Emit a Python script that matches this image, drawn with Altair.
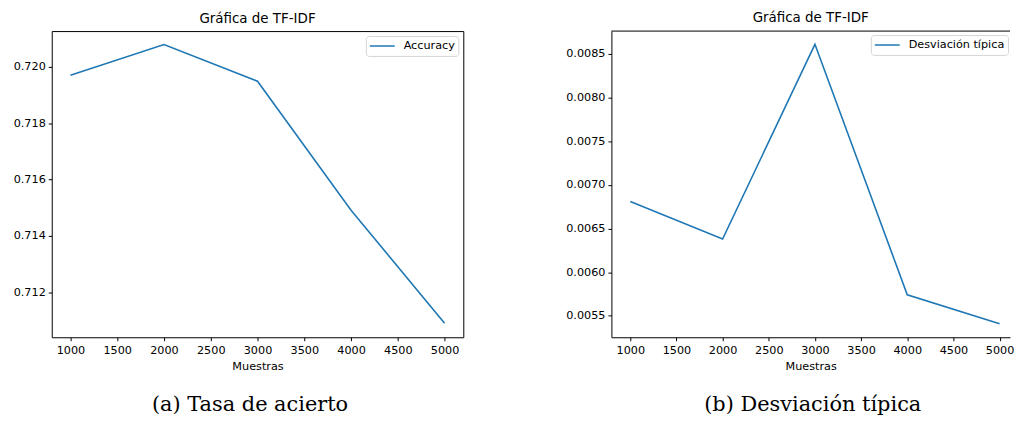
import altair as alt
import pandas as pd

# ---- data ----
muestras = [1000, 2000, 3000, 4000, 5000]
accuracy = [0.7197, 0.72079, 0.71949, 0.71491, 0.7109]
desviacion = [0.00681, 0.00638, 0.00861, 0.00574, 0.00541]
titulo = "Gráfica de TF-IDF"
eje_x = "Muestras"
serie_a = "Accuracy"
serie_b = "Desviación típica"
caption_a = "(a) Tasa de acierto"
caption_b = "(b) Desviación típica"
x_ticks = [1000, 1500, 2000, 2500, 3000, 3500, 4000, 4500, 5000]
y_ticks_a = [0.712, 0.714, 0.716, 0.718, 0.720]
y_ticks_b = [0.0055, 0.0060, 0.0065, 0.0070, 0.0075, 0.0080, 0.0085]

BLUE = "#1f77b4"
SANS = "DejaVu Sans"
H = 308
CAP_Y = 382


def legend_for(pos):
    common = dict(title=None, symbolType="stroke", symbolSize=625,
                  symbolStrokeWidth=1.6, clipHeight=14,
                  labelFont=SANS, labelFontSize=11.3, labelColor="black",
                  labelOffset=8, strokeColor="#d5d5d5", fillColor="white",
                  cornerRadius=3, padding=3)
    if pos is None:
        return alt.Legend(orient="top-right", offset=5, **common)
    return alt.Legend(orient="none", legendX=pos[0], legendY=pos[1], **common)


def panel(values, serie, yticks, ydomain, xdomain, width, yfmt, caption,
          cap_x, ext, framed, legend_pos):
    df = pd.DataFrame({"Muestras": muestras, "valor": values,
                       "serie": [serie] * len(muestras)})
    line = alt.Chart(df).mark_line(strokeWidth=1.6, clip=True).encode(
        x=alt.X("Muestras:Q",
                scale=alt.Scale(domain=xdomain, nice=False, zero=False),
                axis=alt.Axis(values=x_ticks, format="d", title=eje_x,
                              domain=not framed, titlePadding=5,
                              labelPadding=3.5)),
        y=alt.Y("valor:Q",
                scale=alt.Scale(domain=ydomain, nice=False, zero=False),
                axis=alt.Axis(values=yticks, format=yfmt, title=None,
                              domain=not framed, minExtent=ext, maxExtent=ext)),
        color=alt.Color("serie:N",
                        scale=alt.Scale(domain=[serie], range=[BLUE]),
                        legend=legend_for(legend_pos)),
    )
    cap = alt.Chart(pd.DataFrame({"t": [caption]})).mark_text(
        font="DejaVu Serif", fontSize=21, baseline="alphabetic", align="center",
        color="black").encode(x=alt.value(cap_x), y=alt.value(CAP_Y), text="t:N")
    layers = [line, cap]
    if not framed:
        top = alt.Chart(pd.DataFrame({"k": [0]})).mark_rule(
            color="black", strokeWidth=1).encode(
            x=alt.value(0), x2=alt.value(width), y=alt.value(0))
        layers.append(top)
    view = alt.ViewBackground(stroke="black" if framed else "transparent",
                              strokeWidth=1)
    return alt.layer(*layers).properties(
        width=width, height=H, view=view,
        title=alt.Title(titulo, font=SANS, fontSize=13.5, fontWeight="normal",
                        color="black", anchor="middle", frame="group", offset=6))


left = panel(accuracy, serie_a, y_ticks_a, [0.7104, 0.72127], [800, 5200], 414,
             ".3f", caption_a, 199.5, 43, True, None)
right = panel(desviacion, serie_b, y_ticks_b, [0.005254, 0.008762], [795.5, 5113],
              401, ".4f", caption_b, 202.5, 49, False, (261, 4))

chart = alt.hconcat(left, right, spacing=98).resolve_scale(
    color="independent"
).resolve_legend(
    color="independent"
).properties(
    padding={"left": 0, "top": 1, "right": 0, "bottom": 0}
).configure_axis(
    labelFont=SANS, labelFontSize=11.3, labelColor="black",
    titleFont=SANS, titleFontSize=11.3, titleFontWeight="normal", titleColor="black",
    tickColor="black", tickSize=3.5, tickWidth=1, grid=False,
    domainColor="black", domainWidth=1, labelPadding=3,
)

chart.save("out.html", embed_options={"renderer": "svg", "actions": False})
